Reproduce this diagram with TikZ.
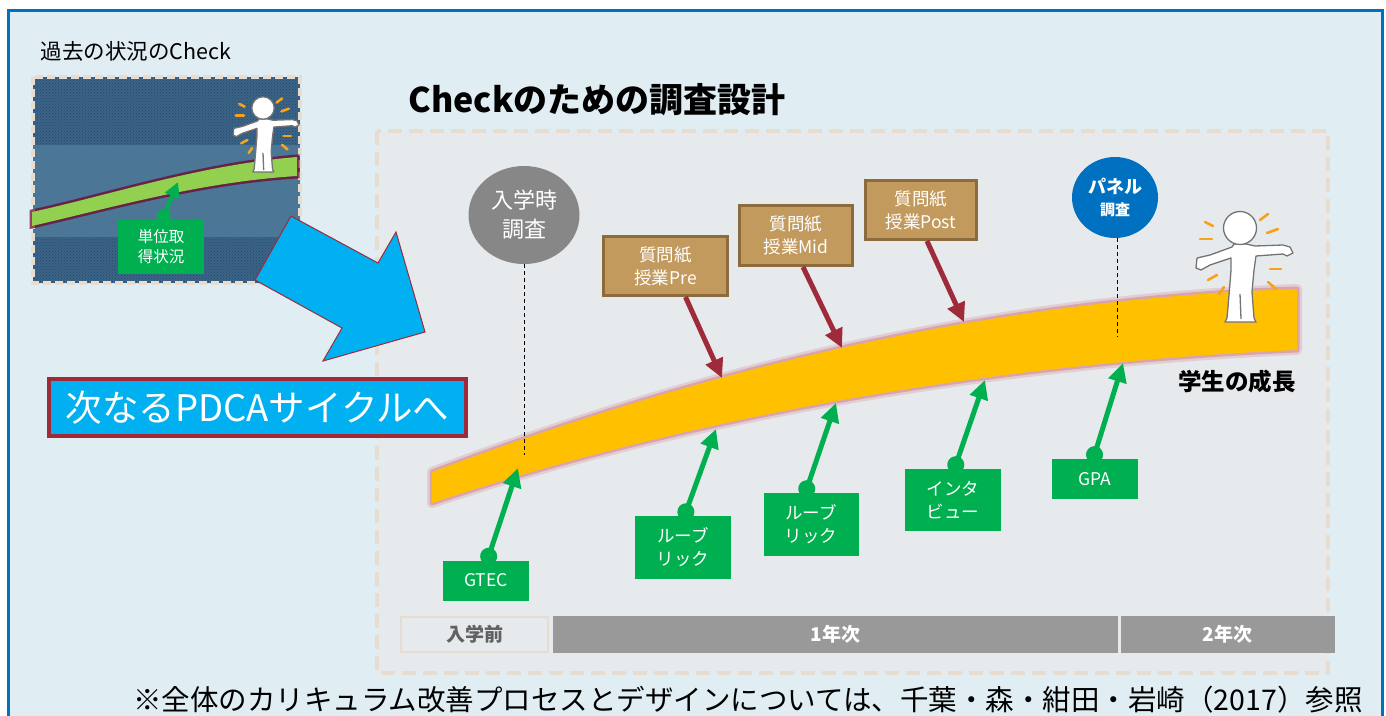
\documentclass[tikz,border=0pt]{standalone}
\usepackage{fontspec}
\setmainfont{Noto Sans CJK JP}
\usetikzlibrary{positioning, arrows.meta, shapes.geometric, patterns}

\definecolor{frameblue}{HTML}{0070C0}
\definecolor{skybg}{HTML}{E0EEF4}
\definecolor{panelgray}{HTML}{E7EAEC}
\definecolor{dashbeige}{HTML}{E6DDD0}
\definecolor{leafgreen}{HTML}{00B050}
\definecolor{brownfill}{HTML}{C39A5D}
\definecolor{browndraw}{HTML}{8C6C3C}
\definecolor{wine}{HTML}{9E2A3A}
\definecolor{growyellow}{HTML}{FFC000}
\definecolor{glowpink}{HTML}{D79AA4}
\definecolor{cyanarrow}{HTML}{00B0F0}
\definecolor{bargray}{HTML}{999999}
\definecolor{circlegray}{HTML}{878787}
\definecolor{navydot}{HTML}{3B6487}
\definecolor{navyband}{HTML}{4B7696}
\definecolor{navydark}{HTML}{24496B}
\definecolor{limegreen}{HTML}{92D050}
\definecolor{sparkorange}{HTML}{F5A31A}

\begin{document}
\begin{tikzpicture}[
    x=1pt, y=-1pt,
    every node/.style={inner sep=0pt},
    greenbox/.style={rectangle, fill=leafgreen, text=white, align=center,
        font=\fontsize{17.5}{23}\selectfont},
    brownbox/.style={rectangle, fill=brownfill, draw=browndraw, line width=3pt,
        text=white, align=center, font=\fontsize{17.5}{23}\selectfont},
    growarrow/.style={leafgreen, line width=5pt,
        {Circle[length=17pt]}-{Triangle[length=19pt,width=18pt]}},
    askarrow/.style={wine, line width=5pt, -{Triangle[length=19pt,width=18pt]}},
    guide/.style={dashed, dash pattern=on 4pt off 3pt, line width=0.9pt},
    yearbar/.style={rectangle, fill=bargray, text=white, minimum height=37pt,
        font=\bfseries\fontsize{19}{19}\selectfont},
    figline/.style={draw=black!55, fill=white, line width=1.3pt, line join=round},
    sparkline/.style={sparkorange, line width=2.6pt, line cap=round},
    person/.pic={
        \draw[figline] (-43,30) -- (-30,27) -- (-8,19) -- (-6,16) -- (6,16) -- (15,18)
            -- (43,17) -- (50,19) -- (53,25) -- (47,28) -- (43,26) -- (16,28) -- (14,42)
            -- (12,64) -- (14,90) -- (16,94) -- (-15,94) -- (-13,90) -- (-11,67) -- (-9,42)
            -- (-9,30) -- (-30,37) -- (-39,42) -- (-44,40) -- cycle;
        \draw[figline] (0,66) -- (1,91);
        \draw[figline] (0,0) circle (16.5);
        \foreach \ax/\ay/\bx/\by in {-35/-6/-27/-2, -40/11/-28/11, 20/-8/28/-14, 27/5/38/1,
                30/41/41/41, 28/54/36/61, -32/52/-23/47, -21/66/-16/59}
            \draw[sparkline] (\ax,\ay) -- (\bx,\by);
    }
]
\useasboundingbox (0,0) rectangle (1386,715);
\clip (0,0) rectangle (1386,715);

% =============================
% frame and background
% =============================
\fill[white] (0,0) rectangle (1386,715);
\draw[frameblue, fill=skybg, line width=3pt] (8,10) rectangle (1382,760);
\draw[dashbeige, fill=panelgray, line width=4pt, dash pattern=on 14pt off 7pt]
    (377,131) rectangle (1328,673);

\node[font=\fontsize{21.5}{21.5}\selectfont] (past) at (136,51) {過去の状況のCheck};
\node[font=\bfseries\fontsize{34}{34}\selectfont] (title) at (597,100) {Checkのための調査設計};

% =============================
% past: credits picture
% =============================
\fill[navydot] (33,77) rectangle (300,283);
\fill[pattern=crosshatch dots, pattern color=navydark] (33,77) rectangle (300,283);
\fill[navyband] (33,145) rectangle (300,237);
\draw[dashbeige, line width=3.5pt, dash pattern=on 8pt off 4pt] (33,77) rectangle (300,283);

\draw[purple!60!black, line width=5pt, opacity=0.7]
    (32,212) .. controls (110,195) and (200,165) .. (297,157) -- (297,176)
    .. controls (200,182) and (110,208) .. (32,226) -- cycle;
\fill[limegreen] (32,212) .. controls (110,195) and (200,165) .. (297,157) -- (297,176)
    .. controls (200,182) and (110,208) .. (32,226) -- cycle;
\pic[scale=0.68] at (263,108) {person};

\node[greenbox, minimum width=86pt, minimum height=54pt, font=\fontsize{15.5}{20}\selectfont]
    (credit) at (161,247) {単位取\\得状況};
\coordinate (tcredit) at (178,182);
\draw[leafgreen, line width=4pt, {Circle[length=14pt]}-{Triangle[length=15pt,width=15pt]}]
    ([yshift=-3pt]credit.north) -- (tcredit);

% big arrow to the next cycle
\draw[wine, fill=cyanarrow, line width=1pt, line join=miter]
    (291,216) -- (378,263) -- (396,232) -- (425,332) -- (323,361) -- (342,328) -- (255,280) -- cycle;

\node[rectangle, fill=cyanarrow, draw=wine, line width=3.5pt, minimum width=417pt,
    minimum height=57pt, text=white, font=\fontsize{36.5}{36.5}\selectfont]
    (next) at (257.5,407.5) {次なるPDCAサイクルへ};

% =============================
% growth band
% =============================
\draw[glowpink, line width=10pt, opacity=0.35, line join=round]
    (432,472) .. controls (650,390) and (950,300) .. (1297,289) -- (1297,350)
    .. controls (950,365) and (650,430) .. (432,503) -- cycle;
\draw[glowpink, line width=5pt, opacity=0.8, line join=round]
    (432,472) .. controls (650,390) and (950,300) .. (1297,289) -- (1297,350)
    .. controls (950,365) and (650,430) .. (432,503) -- cycle;
\fill[growyellow]
    (432,472) .. controls (650,390) and (950,300) .. (1297,289) -- (1297,350)
    .. controls (950,365) and (650,430) .. (432,503) -- cycle;
\pic at (1240,228) {person};
\node[font=\bfseries\fontsize{23.5}{23.5}\selectfont] (growth) at (1237,382) {学生の成長};

% =============================
% surveys
% =============================
\node[ellipse, fill=circlegray, minimum width=111pt, minimum height=98pt, text=white,
    align=center, font=\fontsize{22}{29}\selectfont] (entry) at (524,215) {入学時\\調査};
\node[ellipse, fill=frameblue, minimum width=86pt, minimum height=81pt, text=white,
    align=center, font=\bfseries\fontsize{18}{22}\selectfont]
    (panel) at (1115,197.5) {パネル\\{\fontsize{15}{15}\selectfont 調査}};
\coordinate (dentry) at (524,455);
\coordinate (dpanel) at (1117,337);
\draw[guide] (entry.south) -- (dentry);
\draw[guide] ([xshift=2pt]panel.south) -- (dpanel);

\node[brownbox, minimum width=124pt, minimum height=59pt] (qpre) at (665.5,266) {質問紙\\授業Pre};
\node[brownbox, minimum width=113pt, minimum height=60pt] (qmid) at (796,235.5) {質問紙\\授業Mid};
\node[brownbox, minimum width=111pt, minimum height=59pt] (qpost) at (921,210) {質問紙\\授業Post};
\coordinate (tpre) at (722,378);
\coordinate (tmid) at (842,348);
\coordinate (tpost) at (964,322);
\draw[askarrow] ([xshift=20pt]qpre.south) -- (tpre);
\draw[askarrow] ([xshift=7pt]qmid.south) -- (tmid);
\draw[askarrow] ([xshift=6pt]qpost.south) -- (tpost);

\node[greenbox, minimum width=86pt, minimum height=40pt] (gtec) at (486,580.5) {GTEC};
\node[greenbox, minimum width=96pt, minimum height=63pt] (rub1) at (683,547.5) {ルーブ\\リック};
\node[greenbox, minimum width=95pt, minimum height=63pt] (rub2) at (811,524.5) {ルーブ\\リック};
\node[greenbox, minimum width=96pt, minimum height=62pt] (intv) at (953,500) {インタ\\ビュー};
\node[greenbox, minimum width=86pt, minimum height=40pt] (gpa) at (1095,479) {GPA};
\coordinate (tgtec) at (518,468);
\coordinate (trub1) at (716,429);
\coordinate (trub2) at (836,403);
\coordinate (tintv) at (985,380);
\coordinate (tgpa) at (1123,363);
\draw[growarrow] ([yshift=-4pt]gtec.north) -- (tgtec);
\draw[growarrow] ([yshift=-4pt]rub1.north) -- (trub1);
\draw[growarrow] ([xshift=-7pt,yshift=-4pt]rub2.north) -- (trub2);
\draw[growarrow] ([yshift=-4pt]intv.north) -- (tintv);
\draw[growarrow] ([xshift=-3pt,yshift=-4pt]gpa.north) -- (tgpa);

% =============================
% timeline
% =============================
\node[rectangle, fill=panelgray, draw=dashbeige, line width=2pt, minimum width=147pt,
    minimum height=35pt, text=black!62, font=\bfseries\fontsize{19}{19}\selectfont]
    (before) at (474.5,634.5) {入学前};
\node[yearbar, minimum width=565pt, right=4pt of before] (year1) {1年次};
\node[yearbar, minimum width=214pt, right=2pt of year1] (year2) {2年次};

\node[font=\fontsize{28.5}{28.5}\selectfont] (note) at (748,700)
    {※全体のカリキュラム改善プロセスとデザインについては、千葉・森・紺田・岩崎（2017）参照};
\end{tikzpicture}
\end{document}
